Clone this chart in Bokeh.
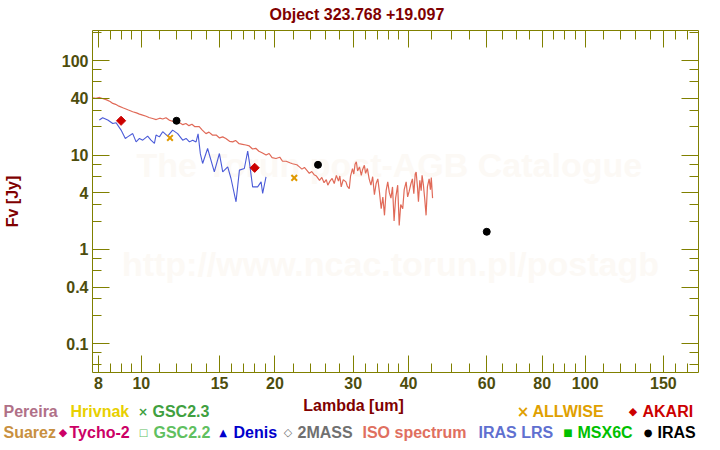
from bokeh.plotting import figure
from bokeh.models import LogAxis, FixedTicker, CustomJSTickFormatter, Label, Range1d
from bokeh.layouts import column
from bokeh.embed import file_html
from bokeh.resources import INLINE
import math

# ---------------- data ----------------
iso_lam = [7.76, 7.9, 8.05, 8.2, 8.35, 8.5, 8.62, 8.75, 8.9, 9.08, 9.2, 9.35, 9.56, 9.75, 9.9,
           10.07, 10.25, 10.4, 10.6, 10.8, 11.0, 11.17, 11.36, 11.55, 11.75, 11.97, 12.2, 12.4,
           12.6, 12.8, 13.0, 13.2, 13.5, 13.7, 13.98, 14.2, 14.45, 14.74, 15.0, 15.25, 15.5,
           15.8, 16.06, 16.3, 16.6, 16.9, 17.2, 17.5, 17.8, 18.1, 18.4, 18.7, 19.1, 19.4, 19.7,
           20.1, 20.5, 20.8, 21.2, 21.6, 21.9, 22.4,
           22.7, 23.0, 23.3, 23.6, 23.9, 24.2, 24.5, 24.8, 25.2, 25.5, 25.8, 26.1, 26.3, 26.6,
           26.9, 27.2, 27.5, 27.8, 28.0, 28.2, 28.5, 28.9, 29.1, 29.4, 29.6, 29.9, 30.1, 30.3,
           30.5, 30.7, 31.0, 31.3, 31.5, 31.8, 32.0, 32.3, 32.6, 32.9, 33.2, 33.5, 33.8, 34.1,
           34.4, 34.7, 35.0, 35.3, 35.6, 35.9, 36.2, 36.5, 36.8, 37.1, 37.4, 37.8, 38.1, 38.4,
           38.8, 39.1, 39.5, 39.8, 40.1, 40.5, 40.8, 41.1, 41.4, 41.6, 41.9, 42.1, 42.4, 42.7,
           42.9, 43.2, 43.5, 43.8, 44.1, 44.5, 44.8, 45.0, 45.3]
iso_flux = [40.5, 40.0, 40.8, 39.5, 38.5, 37.0, 35.3, 34.5, 33.0, 31.7, 31.0, 30.0, 28.8, 28.0, 27.2,
            26.5, 25.8, 25.0, 24.4, 23.8, 24.6, 24.1, 24.9, 23.5, 22.8, 22.5, 22.0, 21.0,
            21.6, 20.5, 21.2, 20.0, 20.0, 18.5, 16.9, 17.5, 16.3, 16.3, 15.2, 15.6, 15.0,
            14.0, 13.8, 14.3, 13.2, 13.0, 12.8, 12.5, 11.6, 11.8, 11.0, 10.6, 10.0, 10.4, 9.4,
            9.2, 9.5, 8.6, 8.6, 8.3, 8.1, 7.9,
            7.5, 7.1, 7.4, 6.9, 6.4, 6.7, 6.2, 6.0, 5.4, 5.8, 5.1, 5.5, 4.8, 5.3,
            5.65, 5.0, 6.1, 5.3, 6.0, 4.6, 5.5, 5.2, 4.7, 4.4, 6.0, 7.2, 6.3, 8.0,
            8.5, 6.8, 7.5, 6.1, 7.0, 7.8, 6.4, 7.2, 5.6, 4.8, 5.9, 3.8, 5.0, 5.6,
            4.0, 2.7, 3.6, 2.3, 4.2, 5.2, 4.0, 3.5, 4.6, 2.0, 3.5, 4.8, 1.8, 3.0,
            2.7, 4.3, 5.2, 3.6, 4.1, 5.0, 5.6, 3.9, 6.3, 6.6, 4.5, 3.2, 5.4, 4.2,
            6.1, 4.8, 3.4, 2.3, 4.6, 5.6, 4.3, 5.8, 3.5]

lrs_lam = [8.04, 8.18, 8.40, 8.62, 8.77, 9.00, 9.20, 9.31, 9.56, 9.73, 9.90, 10.07, 10.33, 10.51,
           10.70, 10.79, 10.98, 11.17, 11.46, 11.76, 12.07, 12.39, 12.61, 12.83, 13.05, 13.28,
           13.42, 13.58, 13.74, 14.10, 14.60, 14.99, 15.25, 15.65, 15.92, 16.34, 16.63, 17.06,
           17.36, 17.51, 17.81, 18.28, 18.61, 18.76, 19.09]
lrs_flux = [23.5, 24.9, 23.5, 21.6, 22.0, 18.4, 15.0, 15.6, 16.9, 13.8, 15.0, 14.4, 15.9, 14.4,
            13.3, 16.3, 15.6, 17.7, 15.9, 18.4, 16.9, 14.4, 15.0, 13.8, 14.4, 13.8,
            16.8, 10.3, 8.15, 11.75, 6.65, 10.4, 6.65, 7.51, 5.65, 3.20, 6.93, 7.21,
            11.0, 8.49, 4.61, 4.61, 5.21, 3.92, 5.89]

akari_lam = [9.0, 18.0]
akari_flux = [23.1, 7.33]
iras_lam = [12.0, 25.0, 60.0]
iras_flux = [23.1, 7.89, 1.54]
allwise_lam = [11.6, 22.1]
allwise_flux = [15.2, 5.74]

x_major = [8, 10, 15, 20, 30, 40, 60, 80, 100, 150]
x_minor = [8.5, 9, 9.5, 11, 12, 13, 14, 16, 17, 18, 19, 22, 24, 26, 28, 32, 34, 36, 38,
           45, 50, 55, 65, 70, 75, 85, 90, 95, 110, 120, 130, 140, 160, 170]
y_major = [0.1, 0.4, 1, 4, 10, 40, 100]
y_minor = [0.06, 0.08, 0.2, 0.3, 0.6, 0.8, 2, 3, 6, 8, 20, 30, 60, 80, 200]

title_text = "Object 323.768 +19.097"
xlabel_text = "Lambda [um]"
ylabel_text = "Fv [Jy]"

legend_row1 = [("Pereira", "#B07088"), ("Hrivnak", "#E8D000"), ("GSC2.3", "#40A040"),
               ("ALLWISE", "#E0A000"), ("AKARI", "#CC0000")]
legend_row2 = [("Suarez", "#C89040"), ("Tycho-2", "#CC0066"), ("GSC2.2", "#60C060"),
               ("Denis", "#0000CC"), ("2MASS", "#707070"), ("ISO spectrum", "#E07060"),
               ("IRAS LRS", "#6070D0"), ("MSX6C", "#00C000"), ("IRAS", "#000000")]

# ---------------- styling constants ----------------
AX = "#808000"
TL = "#4D4D0D"
DR = "#800000"
FONT = "Liberation Sans"
SYM = "DejaVu Sans"
W = 704


def no_align(f):
    try:
        f.frame_align = False
    except AttributeError:
        pass


def lab(f, text, x, y, color, size="16px", align="left", font=FONT, baseline="middle",
        angle=0, level="annotation"):
    f.add_layout(Label(x=x, y=y, text=text, text_font=font, text_font_style="bold",
                       text_font_size=size, text_color=color, text_align=align,
                       text_baseline=baseline, angle=angle, level=level))


# ---------------- main plot ----------------
p = figure(x_axis_type="log", y_axis_type="log",
           x_range=Range1d(7.76, 180), y_range=Range1d(0.0497, 209),
           frame_width=606, frame_height=342,
           min_border_left=85, min_border_right=13, min_border_top=30, min_border_bottom=24,
           output_backend="svg", toolbar_location=None,
           background_fill_color="white", border_fill_color="white")
p.outline_line_color = None
p.grid.visible = False
no_align(p)

p.title.text = title_text
p.title.align = "left"
p.title.offset = 177
p.title.standoff = 11
p.title.vertical_align = "top"
p.title.text_font = FONT
p.title.text_font_style = "bold"
p.title.text_font_size = "16px"
p.title.text_color = DR

fmt_code = "return String(Math.round(tick*1000)/1000);"


def style(ax, ticks, minors, labels=True):
    ax.ticker = FixedTicker(ticks=ticks, minor_ticks=minors)
    ax.axis_line_color = AX
    ax.axis_line_width = 1
    ax.major_tick_line_color = AX
    ax.minor_tick_line_color = AX
    ax.major_tick_in = 17
    ax.major_tick_out = 0
    ax.minor_tick_in = 9
    ax.minor_tick_out = 0
    if labels:
        ax.formatter = CustomJSTickFormatter(code=fmt_code)
        ax.major_label_text_font = FONT
        ax.major_label_text_font_style = "bold"
        ax.major_label_text_font_size = "16px"
        ax.major_label_text_color = TL
        ax.major_label_standoff = 4
    else:
        ax.major_label_text_font_size = "0px"
        ax.major_label_standoff = 0


style(p.xaxis[0], x_major, x_minor)
style(p.yaxis[0], y_major, y_minor)
p.yaxis[0].axis_label = ylabel_text
p.yaxis[0].axis_label_text_font = FONT
p.yaxis[0].axis_label_text_font_style = "bold"
p.yaxis[0].axis_label_text_font_size = "16px"
p.yaxis[0].axis_label_text_color = DR
p.yaxis[0].axis_label_standoff = 38

top = LogAxis()
style(top, x_major, x_minor, labels=False)
p.add_layout(top, "above")
right = LogAxis()
style(right, y_major, y_minor, labels=False)
p.add_layout(right, "right")

# watermark (behind the data)
for txt, lx, ly in [("The Torun post-AGB Catalogue", 36.2, 7.9),
                    ("http://www.ncac.torun.pl/postagb", 36.4, 0.70)]:
    p.add_layout(Label(x=lx, y=ly, text=txt, text_font=FONT, text_font_style="bold",
                       text_font_size="34px", text_color="#FCF9F5", text_align="center",
                       text_baseline="middle", level="underlay"))

p.line(iso_lam, iso_flux, line_color="#E06A58", line_width=1.2)
p.line(lrs_lam, lrs_flux, line_color="#4B5BD8", line_width=1.1)
p.scatter(akari_lam, akari_flux, marker="square", angle=math.pi / 4, size=6.5,
          fill_color="#CC0000", line_color="#CC0000")
p.scatter(iras_lam, iras_flux, marker="circle", size=7, fill_color="black", line_color="black")
p.scatter(allwise_lam, allwise_flux, marker="x", size=8, line_color="#E09A00", line_width=2)

# ---------------- bottom strip: x label + legend ----------------
fb = figure(width=W, height=47, x_range=Range1d(0, W), y_range=Range1d(0, 47),
            x_axis_type=None, y_axis_type=None, min_border=0,
            output_backend="svg", toolbar_location=None,
            background_fill_color="white", border_fill_color="white")
fb.outline_line_color = None
fb.grid.visible = False
no_align(fb)

lab(fb, xlabel_text, 353, 38, DR, align="center")

r1, r2 = 32, 11
row1_x = [3, 70, 152, 532, 642]
row2_x = [3, 69, 153, 233, 297, 362, 478, 577, 657]
for (t, c), x in zip(legend_row1, row1_x):
    lab(fb, t, x, r1, c)
for (t, c), x in zip(legend_row2, row2_x):
    lab(fb, t, x, r2, c)

# legend symbols
lab(fb, "×", 142.5, r1, "#40A040", size="12px", align="center", font=SYM)
lab(fb, "×", 522.5, r1, "#E0A000", size="15px", align="center", font=SYM)
lab(fb, "◆", 632.5, r1, "#CC0000", size="11px", align="center", font=SYM)
lab(fb, "◆", 62.5, r2, "#CC0066", size="11px", align="center", font=SYM)
lab(fb, "□", 143, r2, "#60C060", size="10px", align="center", font=SYM)
lab(fb, "▲", 222.5, r2, "#0000CC", size="10px", align="center", font=SYM)
lab(fb, "◇", 287.5, r2, "#707070", size="11px", align="center", font=SYM)
lab(fb, "■", 567.5, r2, "#00C000", size="10px", align="center", font=SYM)
lab(fb, "●", 647.5, r2, "#000000", size="10px", align="center", font=SYM)

layout = column(p, fb, spacing=0)
open("out.html", "w").write(file_html(layout, INLINE))
